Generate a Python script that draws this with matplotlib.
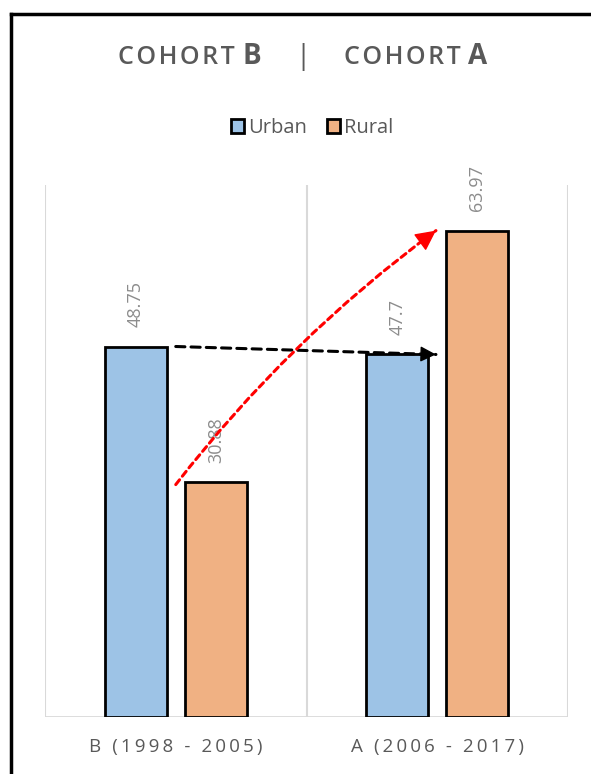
import numpy as np
import matplotlib.pyplot as plt
from matplotlib.lines import Line2D
from matplotlib.patches import Patch

categories = ['B (1998 - 2005)', 'A (2006 - 2017)']
series = ['Urban', 'Rural']
urban = [48.75, 47.7]
rural = [30.88, 63.97]
labels_urban = ['48.75', '47.7']
labels_rural = ['30.88', '63.97']

c_urban = '#9DC3E6'
c_rural = '#F0B183'
txt_dark = '#595959'
txt_gray = '#8c8c8c'
grid_c = '#d9d9d9'

plt.rcParams['font.family'] = ['Open Sans', 'DejaVu Sans']


def spaced(s, sp='\u2009'):
    return sp.join(s)


def dashed_arrow(ax, start, end, color, rad, dashes, head):
    # dashed shaft
    ax.annotate('', xy=end, xytext=start,
                arrowprops=dict(arrowstyle='-', color=color, lw=2.2, linestyle=(0, dashes),
                                shrinkA=0, shrinkB=0, connectionstyle=f'arc3,rad={rad}'), zorder=5)
    # solid head, aligned with the tangent of the curve at its end
    p1 = ax.transData.transform(start)
    p2 = ax.transData.transform(end)
    d = p2 - p1
    mid = (p1 + p2) / 2
    ctrl = np.array([mid[0] + rad * d[1], mid[1] - rad * d[0]])
    t = p2 - ctrl
    t = t / np.hypot(*t)
    ax.annotate('', xy=end, xytext=(-t[0] * head, -t[1] * head), textcoords='offset pixels',
                arrowprops=dict(arrowstyle='-|>', color=color, lw=1, mutation_scale=head * 1.6,
                                shrinkA=0, shrinkB=0), zorder=6)


fig = plt.figure(figsize=(5.91, 7.74), dpi=100)
ax = fig.add_axes([45 / 591, 1 - 717 / 774, 523 / 591, 532 / 774])

x = np.arange(len(categories))
w = 0.237
off = 0.153
ax.bar(x - off, urban, w, color=c_urban, edgecolor='black', linewidth=2, zorder=3)
ax.bar(x + off, rural, w, color=c_rural, edgecolor='black', linewidth=2, zorder=3)

for i in range(len(categories)):
    ax.annotate(labels_urban[i], (x[i] - off, urban[i]), xytext=(0, 14), textcoords='offset points',
                rotation=90, ha='center', va='bottom', fontsize=13, color=txt_gray)
    ax.annotate(labels_rural[i], (x[i] + off, rural[i]), xytext=(0, 14), textcoords='offset points',
                rotation=90, ha='center', va='bottom', fontsize=13, color=txt_gray)

ax.set_xlim(-0.5, 1.5)
ax.set_ylim(0, 70)
for xv in [-0.5, 0.5, 1.5]:
    ax.axvline(xv, color=grid_c, lw=1.5, zorder=1)
ax.axhline(0, color=grid_c, lw=2, zorder=2)
for s in ax.spines.values():
    s.set_visible(False)
ax.set_yticks([])
ax.set_xticks(x)
ax.set_xticklabels([spaced(c) for c in categories], fontsize=13.5, color=txt_dark)
ax.tick_params(axis='x', length=0, pad=15)

# arrows
dashed_arrow(ax, (0.0, urban[0]), (1.0 - 0.005, urban[1]), 'black', 0.0, (3, 2), 15)
dashed_arrow(ax, (0.0, rural[0] - 0.3), (1.0 - 0.005, 64.0), 'red', -0.07, (2, 1.5), 20)

# title
ty = 1 - 57 / 774
fig.text(176 / 591, ty, spaced('COHORT', '\u200a'), fontsize=18, color=txt_dark, ha='center', va='center',
         fontweight='semibold')
fig.text(252 / 591, ty, 'B', fontsize=20, color=txt_dark, ha='center', va='center', fontweight='bold')
fig.text(303 / 591, ty, '|', fontsize=20, color=txt_dark, ha='center', va='center')
fig.text(402 / 591, ty, spaced('COHORT', '\u200a'), fontsize=18, color=txt_dark, ha='center', va='center',
         fontweight='semibold')
fig.text(478 / 591, ty, 'A', fontsize=20, color=txt_dark, ha='center', va='center', fontweight='bold')

handles = [Patch(facecolor=c_urban, edgecolor='black', linewidth=2, label='Urban'),
           Patch(facecolor=c_rural, edgecolor='black', linewidth=2, label='Rural')]
leg = fig.legend(handles=handles, loc='center', bbox_to_anchor=(312 / 591, 1 - 128 / 774), ncol=2,
                 frameon=False, fontsize=14.5, handlelength=0.65, handleheight=0.65, handletextpad=0.2,
                 columnspacing=1.0)
for t in leg.get_texts():
    t.set_color(txt_dark)

# outer frame (left and top edges)
fig.add_artist(Line2D([11 / 591, 11 / 591], [0, 1 - 14 / 774], color='black', lw=2.5))
fig.add_artist(Line2D([11 / 591, 1], [1 - 14 / 774, 1 - 14 / 774], color='black', lw=2.5))

fig.savefig('out.png', dpi=100)
